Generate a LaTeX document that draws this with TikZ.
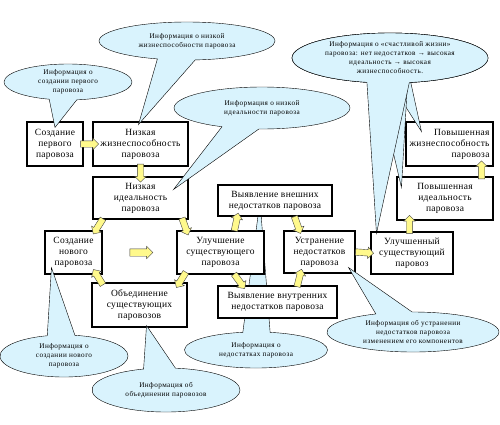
\documentclass[tikz,border=0pt]{standalone}
\usepackage{fontspec}
\setmainfont{Liberation Serif}
\newfontfamily\infofont[LetterSpace=6]{Liberation Serif}
\newfontfamily\boxfont[LetterSpace=3]{Liberation Serif}
\usetikzlibrary{shapes.arrows,shapes.callouts,backgrounds}

\begin{document}
\begin{tikzpicture}[
    x=1pt, y=-1pt,
    box/.style={rectangle, draw, line width=1.1pt, fill=white, align=center, inner sep=2pt, font=\boxfont\fontsize{9.5}{11}\selectfont},
    flow/.style={single arrow, draw=black!75, fill=yellow!45, minimum height=18pt, inner xsep=0pt, inner ysep=3pt, single arrow head extend=2.5pt, sloped, allow upside down},
    info/.style={ellipse callout, draw, fill=cyan!15, callout pointer arc=25, align=center, inner sep=0pt, font=\infofont\fontsize{7.2}{9}\selectfont}
]
\useasboundingbox (0,0) rectangle (500,424);

% boxes
\node[box, minimum width=56pt, minimum height=44pt] (first) at (55,144) {Создание\\первого\\паровоза};
\node[box, minimum width=95pt, minimum height=44pt] (lowviab) at (140.5,144) {Низкая\\жизнеспособность\\паровоза};
\node[box, minimum width=95pt, minimum height=42pt] (lowideal) at (140.5,198) {Низкая\\идеальность\\паровоза};
\node[box, minimum width=57pt, minimum height=43pt] (newloco) at (73.5,252.5) {Создание\\нового\\паровоза};
\node[box, minimum width=87pt, minimum height=43pt] (improve) at (220.5,252.5) {Улучшение\\существующего\\паровоза};
\node[box, minimum width=95pt, minimum height=44pt] (merge) at (139.5,305) {Объединение\\существующих\\паровозов};
\node[box, minimum width=114pt, minimum height=31pt] (extdef) at (275,200.5) {Выявление внешних\\недостатков паровоза};
\node[box, minimum width=119pt, minimum height=32pt] (intdef) at (277.5,302) {Выявление внутренних\\недостатков паровоза};
\node[box, minimum width=71pt, minimum height=42pt] (fixdef) at (319.5,252) {Устранение\\недостатков\\паровоза};
\node[box, minimum width=82pt, minimum height=42pt] (improved) at (412,253) {Улучшенный\\существующий\\паровоз};
\node[box, minimum width=96pt, minimum height=43pt] (highideal) at (445,198.5) {Повышенная\\идеальность\\паровоза};
\node[box, minimum width=87pt, minimum height=44pt, text width=80pt, align=right] (highviab) at (449.5,144) {Повышенная\\жизнеспособность\\паровоза};

% block arrows
\path (first.east) -- node[flow] {} (lowviab.west);
\path (lowviab.south) -- node[flow] {} (lowideal.north);
\path ([xshift=10pt]lowideal.south west) -- node[flow] {} ([xshift=-7pt]newloco.north east);
\path ([xshift=-6pt]lowideal.south east) -- node[flow] {} ([xshift=10pt]improve.north west);
\path ([xshift=10pt]merge.north west) -- node[flow] {} ([xshift=-6pt]newloco.south east);
\path ([xshift=8pt]improve.south west) -- node[flow] {} ([xshift=-8pt]merge.north east);
\path (newloco.east) -- node[flow, minimum height=23pt, inner ysep=3.5pt] {} (improve.west);
\path ([xshift=58pt]improve.north west) -- node[flow] {} ([xshift=20pt]extdef.south west);
\path ([xshift=58pt]improve.south west) -- node[flow] {} ([xshift=25pt]intdef.north west);
\path ([xshift=77pt]extdef.south west) -- node[flow] {} ([xshift=16pt]fixdef.north west);
\path ([xshift=80pt]intdef.north west) -- node[flow] {} ([xshift=17pt]fixdef.south west);
\path (fixdef.east) -- node[flow] {} (improved.west);
\path ([xshift=39pt]improved.north west) -- node[flow] {} ([xshift=13pt]highideal.south west);
\path ([xshift=-12pt]highideal.north east) -- node[flow] {} ([xshift=-12pt]highviab.south east);

% callouts
\begin{scope}[on background layer]
\node[info, minimum width=143pt, minimum height=36pt, callout absolute pointer={([xshift=-15pt]extdef.center)}, callout pointer arc=22] (infodef) at (256,350) {Информация о\\недостатках паровоза};
\end{scope}
\node[info, minimum width=128pt, minimum height=36pt, callout absolute pointer={([yshift=-6pt]first.north)}] (infofirst) at (68,82) {Информация о\\создании первого\\паровоза};
\node[info, minimum width=176pt, minimum height=38pt, callout absolute pointer={([xshift=-2pt,yshift=-3pt]lowviab.north)}] (infoviab) at (187,41) {Информация о низкой\\жизнеспособности паровоза};
\node[info, minimum width=176pt, minimum height=42pt, callout absolute pointer={([xshift=-15pt,yshift=-13pt]lowideal.north east)}] (infoideal) at (262,108) {Информация о низкой\\идеальности паровоза};
\node[info, minimum width=196pt, minimum height=50pt, callout absolute pointer={([xshift=16pt,yshift=-10pt]highviab.north west)}, callout pointer arc=12] (happy3) at (390,58) {};
\node[info, minimum width=196pt, minimum height=50pt, callout absolute pointer={([xshift=5pt,yshift=-11pt]highideal.north west)}, callout pointer arc=18] (happy2) at (390,58) {};
\node[info, minimum width=196pt, minimum height=50pt, callout absolute pointer={([xshift=6pt,yshift=-2pt]improved.north west)}] (happy) at (390,58) {Информация о «счастливой жизни»\\паровоза: нет недостатков → высокая\\идеальность → высокая\\жизнеспособность.};
\node[info, minimum width=128pt, minimum height=42pt, callout absolute pointer={([xshift=7pt,yshift=7pt]newloco.south west)}] (infonew) at (64,356) {Информация о\\создании нового\\паровоза};
\node[info, minimum width=148pt, minimum height=44pt, callout absolute pointer={([xshift=7pt,yshift=2pt]merge.south)}] (infomerge) at (166,390) {Информация об\\объединении паровозов};
\node[info, minimum width=172pt, minimum height=40pt, callout absolute pointer={([xshift=-7pt,yshift=6pt]fixdef.south east)}] (infofix) at (413,332) {Информация об устранении\\недостатков паровоза\\изменением его компонентов};
\end{tikzpicture}
\end{document}
